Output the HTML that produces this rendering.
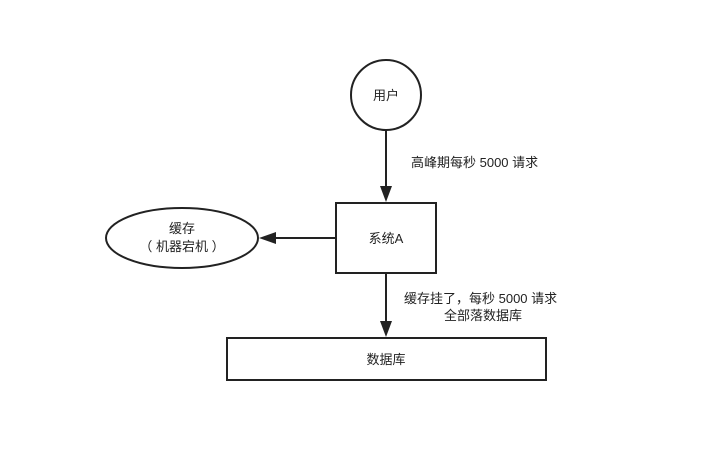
<!DOCTYPE html>
<html><head><meta charset="utf-8"><style>
body{margin:0;background:#fff;}
svg text{font-family:"Liberation Sans","Noto Sans CJK SC",sans-serif;font-size:13px;fill:#222;}
</style></head><body>
<svg width="727" height="449" viewBox="0 0 727 449" xmlns="http://www.w3.org/2000/svg">
<rect width="727" height="449" fill="#fff"/>
<g stroke="#222" stroke-width="2" fill="#fff">
<circle cx="386" cy="95" r="35"/>
<rect x="336" y="203" width="100" height="70"/>
<ellipse cx="182" cy="238" rx="76" ry="30"/>
<rect x="227" y="338" width="319" height="42"/>
<line x1="386" y1="130" x2="386" y2="190"/>
<line x1="336" y1="238" x2="272" y2="238"/>
<line x1="386" y1="273" x2="386" y2="325"/>
</g>
<g fill="#222">
<polygon points="380,186 392,186 386,202"/>
<polygon points="276,232 276,244 259,238"/>
<polygon points="380,321 392,321 386,337"/>
</g>
<text x="386" y="100" text-anchor="middle">用户</text>
<text x="386" y="243" text-anchor="middle">系统A</text>
<text x="182" y="233" text-anchor="middle">缓存</text>
<text x="182" y="251" text-anchor="middle">（ 机器宕机 ）</text>
<text x="386" y="364" text-anchor="middle">数据库</text>
<text x="411" y="167">高峰期每秒 5000 请求</text>
<text x="404" y="303">缓存挂了，每秒 5000 请求</text>
<text x="483" y="320" text-anchor="middle">全部落数据库</text>
</svg>
</body></html>
